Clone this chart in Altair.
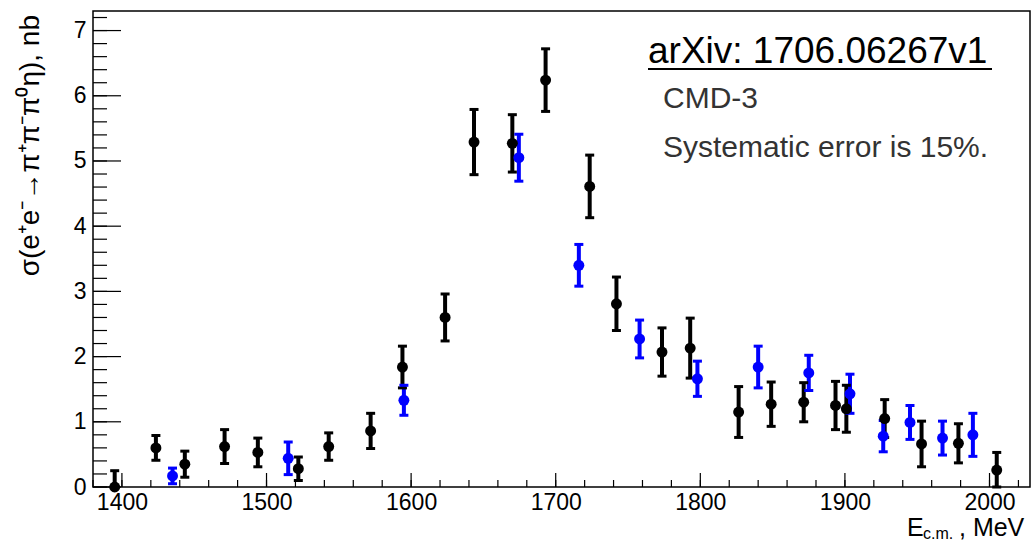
import altair as alt
import pandas as pd

# ---- data ----
E_black = [1395, 1423.5, 1443.5, 1471, 1494, 1522, 1543, 1572, 1594, 1623.5, 1643.5, 1670,
           1693, 1723.5, 1742, 1773.5, 1793, 1826.5, 1849, 1871.5, 1893.5, 1901, 1927.5,
           1953, 1978.5, 2005]
sig_black = [0.0, 0.60, 0.35, 0.62, 0.53, 0.28, 0.62, 0.86, 1.84, 2.60, 5.29, 5.27,
             6.24, 4.61, 2.81, 2.07, 2.13, 1.15, 1.27, 1.30, 1.25, 1.20, 1.05,
             0.66, 0.67, 0.26]
err_black = [0.25, 0.19, 0.20, 0.26, 0.22, 0.18, 0.21, 0.27, 0.32, 0.36, 0.50, 0.44,
             0.48, 0.48, 0.41, 0.37, 0.46, 0.39, 0.34, 0.30, 0.37, 0.36, 0.29,
             0.35, 0.30, 0.27]

E_blue = [1435, 1515, 1595, 1674.5, 1716, 1758, 1798, 1840, 1875, 1903.5, 1926.5,
          1945, 1967.5, 1988.5]
sig_blue = [0.17, 0.44, 1.33, 5.05, 3.40, 2.27, 1.66, 1.84, 1.75, 1.43, 0.78,
            0.99, 0.75, 0.80]
err_blue = [0.12, 0.25, 0.23, 0.36, 0.32, 0.29, 0.27, 0.32, 0.27, 0.30, 0.24,
            0.26, 0.26, 0.33]

x_major = [1400, 1500, 1600, 1700, 1800, 1900, 2000]
x_minor = list(range(1380, 2021, 20))
y_major = [0, 1, 2, 3, 4, 5, 6, 7]
y_minor = [round(0.2 * i, 1) for i in range(0, 37)]

y_title = ["σ(e⁺e⁻→π⁺π⁻π⁰η), nb"]
x_title_main = ["E"]
x_title_sub = ["c.m."]
x_title_unit = [", MeV"]
note_ref = ["arXiv: 1706.06267v1"]
note_exp = ["CMD-3"]
note_sys = ["Systematic error is 15%."]

# ---- build table ----
rows = []
for e, s, d in zip(E_black, sig_black, err_black):
    rows.append(dict(E=e, sig=s, lo=max(0.0, s - d), hi=s + d, grp="black"))
for e, s, d in zip(E_blue, sig_blue, err_blue):
    rows.append(dict(E=e, sig=s, lo=max(0.0, s - d), hi=s + d, grp="blue"))
df = pd.DataFrame(rows)

W, H = 937, 476
FONT = "Liberation Sans"

xs = alt.Scale(domain=[1380, 2028], nice=False, zero=False)
ys = alt.Scale(domain=[0, 7.3], nice=False, zero=False)
xaxis = alt.Axis(values=x_major, ticks=False, domain=False, grid=False, title=None,
                 labelFontSize=23, labelPadding=4, labelFont=FONT, labelColor="black",
                 format="d")
yaxis = alt.Axis(values=y_major, ticks=False, domain=False, grid=False, title=None,
                 labelFontSize=23, labelPadding=7, labelFont=FONT, labelColor="black",
                 format="d")
col = alt.Color("grp:N", scale=alt.Scale(domain=["black", "blue"],
                                          range=["#000000", "#0000ff"]), legend=None)

base = alt.Chart(df)
bars = base.mark_rule(strokeWidth=4).encode(
    x=alt.X("E:Q", scale=xs, axis=xaxis),
    y=alt.Y("lo:Q", scale=ys, axis=yaxis), y2="hi:Q", color=col)
cap_lo = base.mark_tick(orient="horizontal", thickness=3, size=9, opacity=1).encode(
    x=alt.X("E:Q", scale=xs, axis=xaxis), y=alt.Y("lo:Q", scale=ys, axis=yaxis), color=col)
cap_hi = base.mark_tick(orient="horizontal", thickness=3, size=9, opacity=1).encode(
    x=alt.X("E:Q", scale=xs, axis=xaxis), y=alt.Y("hi:Q", scale=ys, axis=yaxis), color=col)
pts = base.mark_point(filled=True, shape="circle", size=120, opacity=1).encode(
    x=alt.X("E:Q", scale=xs, axis=xaxis), y=alt.Y("sig:Q", scale=ys, axis=yaxis), color=col)

# inward ticks
xmaj = alt.Chart(pd.DataFrame({"E": x_major})).mark_rule(color="black", strokeWidth=1.2).encode(
    x=alt.X("E:Q", scale=xs, axis=xaxis), y=alt.value(H), y2=alt.value(H - 14))
xmin = alt.Chart(pd.DataFrame({"E": x_minor})).mark_rule(color="black", strokeWidth=1.2).encode(
    x=alt.X("E:Q", scale=xs, axis=xaxis), y=alt.value(H), y2=alt.value(H - 7))
ymaj = alt.Chart(pd.DataFrame({"sig": y_major})).mark_rule(color="black", strokeWidth=1.2).encode(
    y=alt.Y("sig:Q", scale=ys, axis=yaxis), x=alt.value(0), x2=alt.value(28))
ymin = alt.Chart(pd.DataFrame({"sig": y_minor})).mark_rule(color="black", strokeWidth=1.2).encode(
    y=alt.Y("sig:Q", scale=ys, axis=yaxis), x=alt.value(0), x2=alt.value(14))


def txt(lst, x, y, size, color="black", align="left", angle=0, baseline="alphabetic"):
    kw = dict(align=align, baseline=baseline, fontSize=size, font=FONT, color=color)
    if angle:
        kw["angle"] = angle
    return alt.Chart(pd.DataFrame({"t": lst})).mark_text(**kw).encode(
        x=alt.value(x), y=alt.value(y), text="t:N")


ytitle = txt(y_title, -62, 4, 28, align="right", angle=270, baseline="middle")
xt1 = txt(x_title_main, 814, 525, 25)
xt2 = txt(x_title_sub, 830, 528, 16)
xt3 = txt(x_title_unit, 866, 525, 25)
n1 = txt(note_ref, 555, 52, 37)
n2 = txt(note_exp, 570, 97, 30, color="#333333")
n3 = txt(note_sys, 570, 146, 30, color="#333333")
uline = alt.Chart(pd.DataFrame({"t": note_ref})).mark_rule(color="black", strokeWidth=2).encode(
    x=alt.value(555), x2=alt.value(899), y=alt.value(58))

chart = alt.layer(xmin, xmaj, ymin, ymaj, bars, cap_lo, cap_hi, pts,
                  ytitle, xt1, xt2, xt3, n1, n2, n3, uline).properties(
    width=W, height=H,
    autosize=alt.AutoSizeParams(type="none"),
    padding={"left": 93, "top": 11, "right": 2, "bottom": 57},
    background="white",
).configure_view(stroke="black", strokeWidth=1.5)

chart.save("out.html", embed_options={"renderer": "svg", "actions": False})
